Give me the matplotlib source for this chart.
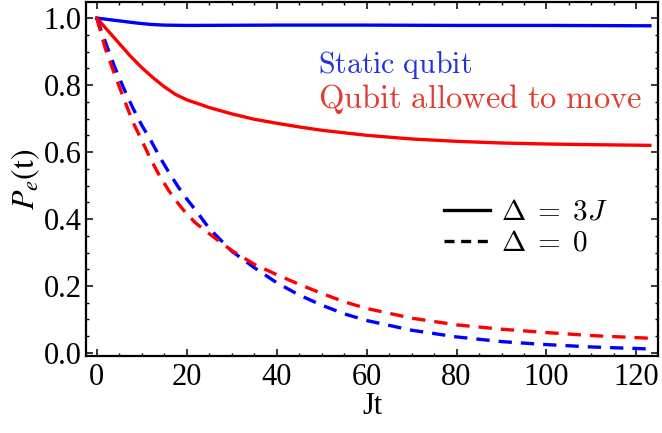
import matplotlib
matplotlib.use("Agg")
import matplotlib.pyplot as plt
from matplotlib.lines import Line2D
from matplotlib.ticker import MultipleLocator, FormatStrFormatter

plt.rcParams['font.family'] = ['Liberation Serif', 'DejaVu Serif']
plt.rcParams['mathtext.fontset'] = 'stix'

# excited-state population vs Jt
t_static_3j = [0, 3, 6, 9, 12, 15, 20, 40, 60, 80, 100, 123]
p_static_3j = [1.0, 0.995, 0.99, 0.985, 0.981, 0.979, 0.978, 0.979, 0.979, 0.978, 0.978, 0.977]

t_move_3j = [0, 2.5, 5, 7.5, 10, 12.5, 15, 17.5, 20, 25, 30, 35, 40, 45, 50,
             60, 70, 80, 90, 100, 110, 123]
p_move_3j = [1.0, 0.962, 0.924, 0.886, 0.852, 0.822, 0.795, 0.772, 0.756, 0.733,
             0.714, 0.698, 0.686, 0.675, 0.665, 0.65, 0.639, 0.632, 0.627, 0.624,
             0.622, 0.62]

t_zero = [0, 2, 4, 6, 8, 10, 12, 14, 16, 18, 20, 22, 25, 30, 35, 40, 45, 50, 55,
          60, 70, 80, 90, 100, 110, 123]
p_static_0 = [1.0, 0.925, 0.853, 0.79, 0.732, 0.68, 0.635, 0.585, 0.54, 0.498,
              0.46, 0.426, 0.372, 0.304, 0.255, 0.21, 0.173, 0.143, 0.117, 0.097,
              0.068, 0.048, 0.034, 0.025, 0.018, 0.012]
p_move_0 = [1.0, 0.905, 0.83, 0.76, 0.69, 0.635, 0.578, 0.528, 0.485, 0.448,
            0.415, 0.388, 0.356, 0.306, 0.265, 0.234, 0.205, 0.178, 0.153, 0.133,
            0.104, 0.084, 0.071, 0.061, 0.052, 0.044]

blue = (0, 0, 1)
red = (1, 0, 0)
lw = 2.4
dash = (4, 2.7)

fig = plt.figure(figsize=(6.62, 4.33), dpi=100)
ax = fig.add_axes([86 / 662, 1 - 356 / 433, 572 / 662, 354 / 433])

ax.plot(t_static_3j, p_static_3j, color=blue, lw=lw)
ax.plot(t_move_3j, p_move_3j, color=red, lw=lw)
ax.plot(t_zero, p_static_0, color=blue, lw=lw, ls=(0, dash), dash_capstyle='butt')
ax.plot(t_zero, p_move_0, color=red, lw=lw, ls=(0, dash), dash_capstyle='butt')

ax.set_xlim(-2.4, 124.8)
ax.set_ylim(-0.009, 1.048)
ax.xaxis.set_major_locator(MultipleLocator(20))
ax.xaxis.set_minor_locator(MultipleLocator(5))
ax.yaxis.set_major_locator(MultipleLocator(0.2))
ax.yaxis.set_minor_locator(MultipleLocator(0.05))
ax.yaxis.set_major_formatter(FormatStrFormatter('%.1f'))
ax.tick_params(which='both', direction='in', top=True, right=True, labelsize=22)
ax.tick_params(which='major', length=5, width=1.1)
ax.tick_params(which='minor', length=2.5, width=1.0)
ax.tick_params(axis='x', pad=5)
ax.tick_params(axis='y', pad=3)
for s in ax.spines.values():
    s.set_linewidth(1.6)

ax.set_xlabel('Jt', fontsize=22, labelpad=0)
ax.set_ylabel(r'$P_e(\mathrm{t})$', fontsize=23, labelpad=1)

ax.text(0.405, 0.80, r'$\mathrm{Static\ qubit}$', transform=ax.transAxes,
        color='#2233dd', fontsize=21.5, math_fontfamily='cm')
ax.text(0.405, 0.70, r'$\mathrm{Qubit\ allowed\ to\ move}$', transform=ax.transAxes,
        color='#e23c2e', fontsize=23.5, math_fontfamily='cm')

handles = [Line2D([], [], color='black', lw=lw),
           Line2D([], [], color='black', lw=lw, ls=(0, (3, 2)), dash_capstyle='butt')]
leg = ax.legend(handles, [r'$\Delta\;=\;3J$', r'$\Delta\;=\;0$'],
                loc='upper left', bbox_to_anchor=(0.605, 0.475),
                frameon=False, handlelength=1.6, handletextpad=0.35,
                labelspacing=0.15, borderaxespad=0,
                prop={'size': 21, 'math_fontfamily': 'cm'})

fig.savefig('out.png', dpi=100)
